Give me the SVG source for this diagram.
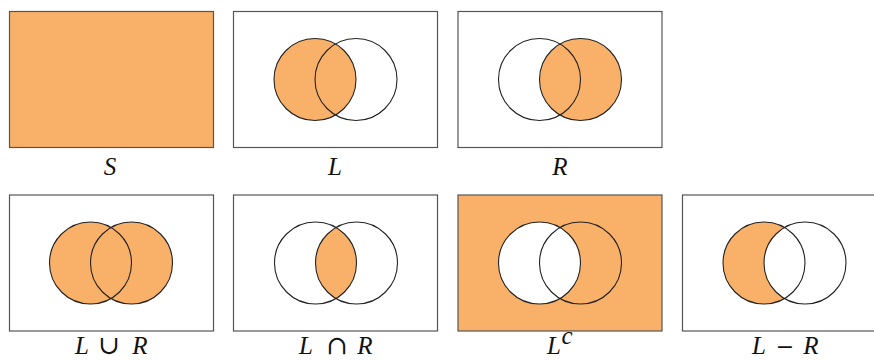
<svg xmlns="http://www.w3.org/2000/svg" width="874" height="360" viewBox="0 0 874 360">
<style>
.box{fill:#fff;stroke:#555;stroke-width:1.2}
.fbox{fill:#F9B16A;stroke:#555;stroke-width:1.2}
.c{fill:none;stroke:#222;stroke-width:1.1}
.f{fill:#F9B16A;stroke:none}
.w{fill:#fff;stroke:none}
.lbl{font-family:"Liberation Serif","DejaVu Serif",serif;font-style:italic;font-size:25px;fill:#111;text-anchor:middle}
.op{font-family:"DejaVu Serif","Liberation Serif",serif;font-style:normal;font-size:22px;fill:#111;text-anchor:middle}
.big{font-size:26px}
</style>
<defs>
<clipPath id="clipR4"><circle cx="356.5" cy="263" r="41"/></clipPath>
</defs>
<g id="S">
<rect class="fbox" x="9.5" y="11.5" width="204" height="136"/>
<text class="lbl" x="110" y="175">S</text>
</g>
<g id="L">
<rect class="box" x="233.5" y="11.5" width="204" height="136"/>
<circle class="f" cx="315" cy="79.5" r="41"/>
<circle class="c" cx="315" cy="79.5" r="41"/>
<circle class="c" cx="356" cy="79.5" r="41"/>
<text class="lbl" x="335" y="175">L</text>
</g>
<g id="R">
<rect class="box" x="458" y="11.5" width="204" height="136"/>
<circle class="f" cx="580.5" cy="79.5" r="41"/>
<circle class="c" cx="539.5" cy="79.5" r="41"/>
<circle class="c" cx="580.5" cy="79.5" r="41"/>
<text class="lbl" x="560" y="175">R</text>
</g>
<g id="LunionR">
<rect class="box" x="9.5" y="195" width="204" height="136"/>
<circle class="f" cx="90.5" cy="263" r="41"/>
<circle class="f" cx="131.5" cy="263" r="41"/>
<circle class="c" cx="90.5" cy="263" r="41"/>
<circle class="c" cx="131.5" cy="263" r="41"/>
<text class="lbl" x="82" y="354">L</text>
<text class="op big" x="109" y="354">∪</text>
<text class="lbl" x="140" y="354">R</text>
</g>
<g id="LinterR">
<rect class="box" x="233.5" y="195" width="204" height="136"/>
<circle class="f" cx="315.5" cy="263" r="41" clip-path="url(#clipR4)"/>
<circle class="c" cx="315.5" cy="263" r="41"/>
<circle class="c" cx="356.5" cy="263" r="41"/>
<text class="lbl" x="306" y="354">L</text>
<text class="op big" x="337" y="354">∩</text>
<text class="lbl" x="365" y="354">R</text>
</g>
<g id="Lc">
<rect class="fbox" x="458" y="195" width="204" height="136"/>
<circle class="w" cx="539.5" cy="263" r="41"/>
<circle class="c" cx="539.5" cy="263" r="41"/>
<circle class="c" cx="580.5" cy="263" r="41"/>
<text class="lbl" x="554" y="354">L</text>
<text class="lbl" x="567" y="344" font-size="15">c</text>
</g>
<g id="LminusR">
<rect class="box" x="682.5" y="195" width="204" height="136"/>
<circle class="f" cx="764" cy="263" r="41"/>
<circle class="w" cx="805" cy="263" r="41"/>
<circle class="c" cx="764" cy="263" r="41"/>
<circle class="c" cx="805" cy="263" r="41"/>
<text class="lbl" x="759" y="354">L</text>
<text class="op" x="785" y="354">−</text>
<text class="lbl" x="811" y="354">R</text>
</g>
<g id="connectors"></g>
</svg>
